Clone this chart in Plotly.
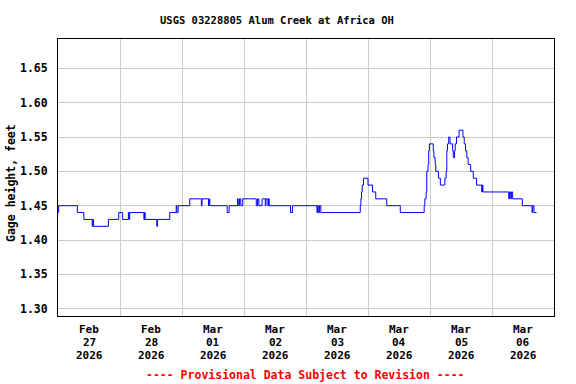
import pandas as pd
import plotly.graph_objects as go

# hours since 2026-02-27 00:00 where the gage reading changes (step data)
hours = [0, 0.25, 7.5, 10.0, 13.25, 13.5, 13.75, 19.5, 23.5, 25.0, 27.25, 27.5, 27.75,
         33.25, 33.5, 33.75, 38.25, 38.5, 43.25, 45.75, 46.0, 46.5, 51.0, 55.5, 55.75,
         58.25, 58.5, 58.75, 65.5, 66.25, 69.5, 69.75, 70.25, 70.75, 71.5, 76.75, 77.25,
         77.75, 79.0, 80.25, 80.5, 81.25, 81.5, 81.75, 90.0, 90.75, 100.25, 100.5, 100.75,
         101.25, 101.75, 117.0, 117.25, 117.5, 117.75, 118.25, 120.0, 121.75, 123.0, 127.25,
         132.5, 141.75, 142.0, 142.5, 142.75, 143.25, 143.5, 143.75, 145.25, 145.5, 146.0,
         146.25, 147.25, 148.0, 149.75, 150.25, 150.5, 150.75, 151.25, 151.75, 152.75, 153.0,
         153.5, 153.75, 154.25, 155.25, 156.75, 157.25, 157.75, 158.25, 158.75, 159.75,
         160.75, 162.0, 164.0, 164.25, 164.5, 174.5, 174.75, 175.25, 175.5, 176.0, 179.75,
         183.5, 183.75, 184.25, 185.25]
gage_ft = [1.44, 1.45, 1.44, 1.43, 1.42, 1.43, 1.42, 1.43, 1.44, 1.43, 1.44, 1.43, 1.44,
           1.43, 1.44, 1.43, 1.42, 1.43, 1.44, 1.45, 1.44, 1.45, 1.46, 1.45, 1.46,
           1.45, 1.46, 1.45, 1.44, 1.45, 1.46, 1.45, 1.46, 1.45, 1.46, 1.45, 1.46,
           1.45, 1.46, 1.45, 1.46, 1.45, 1.46, 1.45, 1.44, 1.45, 1.44, 1.45, 1.44,
           1.45, 1.44, 1.45, 1.46, 1.47, 1.48, 1.49, 1.48, 1.47, 1.46, 1.45,
           1.44, 1.45, 1.46, 1.47, 1.50, 1.51, 1.53, 1.54, 1.53, 1.52, 1.51,
           1.50, 1.49, 1.48, 1.49, 1.50, 1.53, 1.54, 1.55, 1.54, 1.53, 1.52,
           1.53, 1.54, 1.55, 1.56, 1.55, 1.54, 1.53, 1.52, 1.51, 1.50,
           1.49, 1.48, 1.47, 1.48, 1.47, 1.46, 1.47, 1.46, 1.47, 1.46, 1.45,
           1.44, 1.45, 1.44, 1.44]

tick_dates = ["2026-02-27 12:00", "2026-02-28 12:00", "2026-03-01 12:00", "2026-03-02 12:00",
              "2026-03-03 12:00", "2026-03-04 12:00", "2026-03-05 12:00", "2026-03-06 12:00"]
tick_months = ["Feb", "Feb", "Mar", "Mar", "Mar", "Mar", "Mar", "Mar"]
tick_days = ["27", "28", "01", "02", "03", "04", "05", "06"]
tick_years = ["2026"] * 8
y_ticks = [1.30, 1.35, 1.40, 1.45, 1.50, 1.55, 1.60, 1.65]

start = pd.Timestamp("2026-02-27 00:00")
times = start + pd.to_timedelta(hours, unit="h")

FONT = "DejaVu Sans Mono"
PLOT_H = 277.0  # plot area height in px (for paper offsets)


def lab_font(color="black", size=11.5):
    return dict(family=FONT, size=size, color=color, weight="bold")


fig = go.Figure()
fig.add_trace(go.Scatter(x=times, y=gage_ft, mode="lines", line=dict(color="#0000ff", width=1, shape="hv"),
                         hoverinfo="x+y", showlegend=False))

annotations = []
# three-row date labels under each day, centred at noon
for row, (labels, ypx) in enumerate([(tick_months, 329.9), (tick_days, 342.8), (tick_years, 355.7)]):
    for xv, txt in zip(tick_dates, labels):
        annotations.append(dict(text=txt, xref="x", yref="paper", x=xv, y=(316.0 - ypx) / PLOT_H,
                                xanchor="center", yanchor="middle", showarrow=False,
                                font=lab_font(size=11)))

annotations += [
    dict(text="USGS 03228805 Alum Creek at Africa OH", xref="paper", yref="paper",
         x=0.4415, y=(316.0 - 20.0) / PLOT_H, xanchor="center", yanchor="middle", showarrow=False,
         font=lab_font(size=10.5)),
    dict(text="Gage height, feet", xref="paper", yref="paper", textangle=-90,
         x=-0.0948, y=(316.0 - 183.0) / PLOT_H, xanchor="center", yanchor="middle", showarrow=False,
         font=lab_font()),
    dict(text="---- Provisional Data Subject to Revision ----", xref="paper", yref="paper",
         x=0.4985, y=(316.0 - 375.0) / PLOT_H, xanchor="center", yanchor="middle", showarrow=False,
         font=lab_font(color="red")),
]

fig.update_layout(
    width=576, height=384,
    margin=dict(l=58, r=22, t=39, b=68),
    paper_bgcolor="white", plot_bgcolor="white",
    font=lab_font(),
    xaxis=dict(
        range=["2026-02-27 00:00", "2026-03-07 00:00"],
        tickmode="array", tickvals=tick_dates, showticklabels=False,
        showgrid=False, ticks="",
        minor=dict(tickmode="linear", tick0="2026-02-27", dtick=86400000, showgrid=True,
                   gridcolor="#cccccc", gridwidth=1, ticks=""),
        showline=True, linecolor="black", linewidth=1, mirror=True,
    ),
    yaxis=dict(
        range=[1.2894, 1.6927],
        tickmode="array", tickvals=y_ticks, ticktext=[f"{v:.2f}" for v in y_ticks],
        showgrid=True, gridcolor="#cccccc", gridwidth=1, zeroline=False, ticks="",
        ticklabelstandoff=7,
        showline=True, linecolor="black", linewidth=1, mirror=True,
        tickfont=lab_font(),
    ),
    annotations=annotations,
)

fig.write_html("out.html", config={"displayModeBar": False},
               post_script="document.body.style.margin='0';document.body.style.padding='0';")
